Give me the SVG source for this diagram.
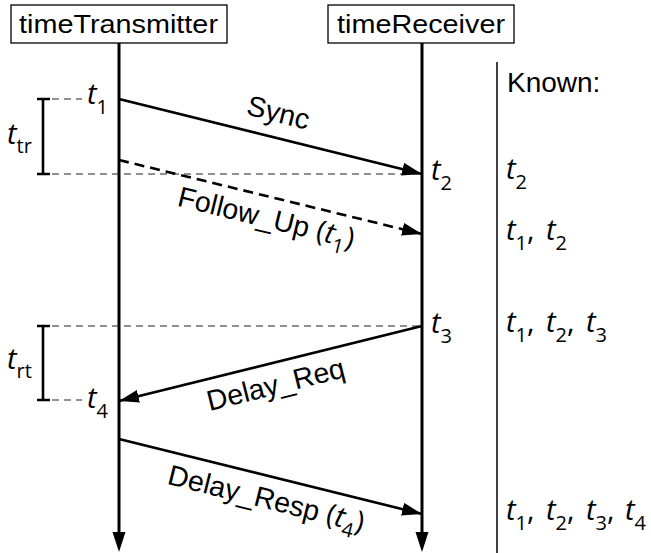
<svg xmlns="http://www.w3.org/2000/svg" width="651" height="553" viewBox="0 0 651 553">
<defs>
<marker id="ah" markerUnits="userSpaceOnUse" markerWidth="22" markerHeight="14" refX="20" refY="6.5" orient="auto">
<path d="M0,0 L20,6.5 L0,13 z" fill="#000"/>
</marker>
<style>
.box{fill:#fff;stroke:#000;stroke-width:1.3}
.lbl{font-family:"Liberation Sans",Arial,sans-serif;font-size:25px;fill:#000}
.msg{font-family:"Liberation Sans",Arial,sans-serif;font-size:28.5px;fill:#000}
.life{stroke:#000;stroke-width:3;fill:none}
.arr{stroke:#000;stroke-width:2.6;fill:none}
.dash{stroke:#000;stroke-width:2.6;fill:none;stroke-dasharray:10 6}
.help{stroke:#222;stroke-width:1.2;fill:none;stroke-dasharray:7 5}
.br{stroke:#000;stroke-width:2.6;fill:none}
.tv{font-family:"Open Sans","DejaVu Sans",sans-serif;font-size:29px;fill:#000}
.it{font-style:italic}
.sb{font-size:20px;font-style:normal}
</style>
</defs>
<g id="timeTransmitter">
<rect class="box" x="11" y="5" width="216" height="38"/>
<text class="lbl" x="19" y="32.5" textLength="199" lengthAdjust="spacingAndGlyphs">timeTransmitter</text>
<line class="life" x1="119" y1="43" x2="119" y2="535"/>
<path d="M112.5,532 L125.5,532 L119,552 z" fill="#000"/>
</g>
<g id="timeReceiver">
<rect class="box" x="328" y="5" width="186" height="38"/>
<text class="lbl" x="337" y="32.5" textLength="168" lengthAdjust="spacingAndGlyphs">timeReceiver</text>
<line class="life" x1="422" y1="43" x2="422" y2="535"/>
<path d="M415.5,532 L428.5,532 L422,552 z" fill="#000"/>
</g>
<g id="known">
<line x1="497" y1="62" x2="497" y2="553" stroke="#000" stroke-width="1.5"/>
<text class="msg" x="507" y="92" style="font-size:28px">Known:</text>
<text class="tv" y="179"><tspan class="it" x="506">t</tspan><tspan class="sb" dy="10">2</tspan></text>
<text class="tv" y="240"><tspan class="it" x="506">t</tspan><tspan class="sb" dy="10">1</tspan><tspan dy="-10">,</tspan><tspan class="it" x="546">t</tspan><tspan class="sb" dy="10">2</tspan></text>
<text class="tv" y="332"><tspan class="it" x="506">t</tspan><tspan class="sb" dy="10">1</tspan><tspan dy="-10">,</tspan><tspan class="it" x="546">t</tspan><tspan class="sb" dy="10">2</tspan><tspan dy="-10">,</tspan><tspan class="it" x="586">t</tspan><tspan class="sb" dy="10">3</tspan></text>
<text class="tv" y="520"><tspan class="it" x="506">t</tspan><tspan class="sb" dy="10">1</tspan><tspan dy="-10">,</tspan><tspan class="it" x="546">t</tspan><tspan class="sb" dy="10">2</tspan><tspan dy="-10">,</tspan><tspan class="it" x="586">t</tspan><tspan class="sb" dy="10">3</tspan><tspan dy="-10">,</tspan><tspan class="it" x="625">t</tspan><tspan class="sb" dy="10">4</tspan></text>
</g>
<g id="timestamps">
<text class="tv" y="104"><tspan class="it" x="87">t</tspan><tspan class="sb" dy="10">1</tspan></text>
<text class="tv" y="408"><tspan class="it" x="87">t</tspan><tspan class="sb" dy="10">4</tspan></text>
<text class="tv" y="180"><tspan class="it" x="431">t</tspan><tspan class="sb" dy="10">2</tspan></text>
<text class="tv" y="333"><tspan class="it" x="431">t</tspan><tspan class="sb" dy="10">3</tspan></text>
<text class="tv" y="144"><tspan class="it" x="7">t</tspan><tspan class="sb" dy="9">tr</tspan></text>
<text class="tv" y="369"><tspan class="it" x="7">t</tspan><tspan class="sb" dy="9">rt</tspan></text>
</g>
<g id="brackets">
<path class="br" d="M43,99 V174 M37,99 H50 M37,174 H50"/>
<path class="br" d="M43,326 V400 M37,326 H50 M37,400 H50"/>
</g>
<g id="connectors">
<path class="help" d="M52,99 H82"/>
<path class="help" d="M52,174 H420"/>
<path class="help" d="M52,326 H420"/>
<path class="help" d="M52,400 H82"/>
<line class="arr" x1="119" y1="99" x2="422" y2="174" marker-end="url(#ah)"/>
<line class="dash" x1="119" y1="160" x2="422" y2="234" marker-end="url(#ah)"/>
<line class="arr" x1="422" y1="326" x2="119" y2="401" marker-end="url(#ah)"/>
<line class="arr" x1="119" y1="439" x2="422" y2="514" marker-end="url(#ah)"/>
<text class="msg" text-anchor="middle" transform="translate(276,122) rotate(14)">Sync</text>
<text class="msg" text-anchor="middle" transform="translate(264,227) rotate(13.8)">Follow_Up <tspan class="tv" style="font-style:normal">(</tspan><tspan class="tv it">t</tspan><tspan class="tv sb" dy="8">1</tspan><tspan class="tv" dy="-8" style="font-style:normal">)</tspan></text>
<text class="msg" text-anchor="middle" transform="translate(278,394) rotate(-14)">Delay_Req</text>
<text class="msg" text-anchor="middle" transform="translate(264,508) rotate(14)">Delay_Resp <tspan class="tv" style="font-style:normal">(</tspan><tspan class="tv it">t</tspan><tspan class="tv sb" dy="8">4</tspan><tspan class="tv" dy="-8" style="font-style:normal">)</tspan></text>
</g>
</svg>
